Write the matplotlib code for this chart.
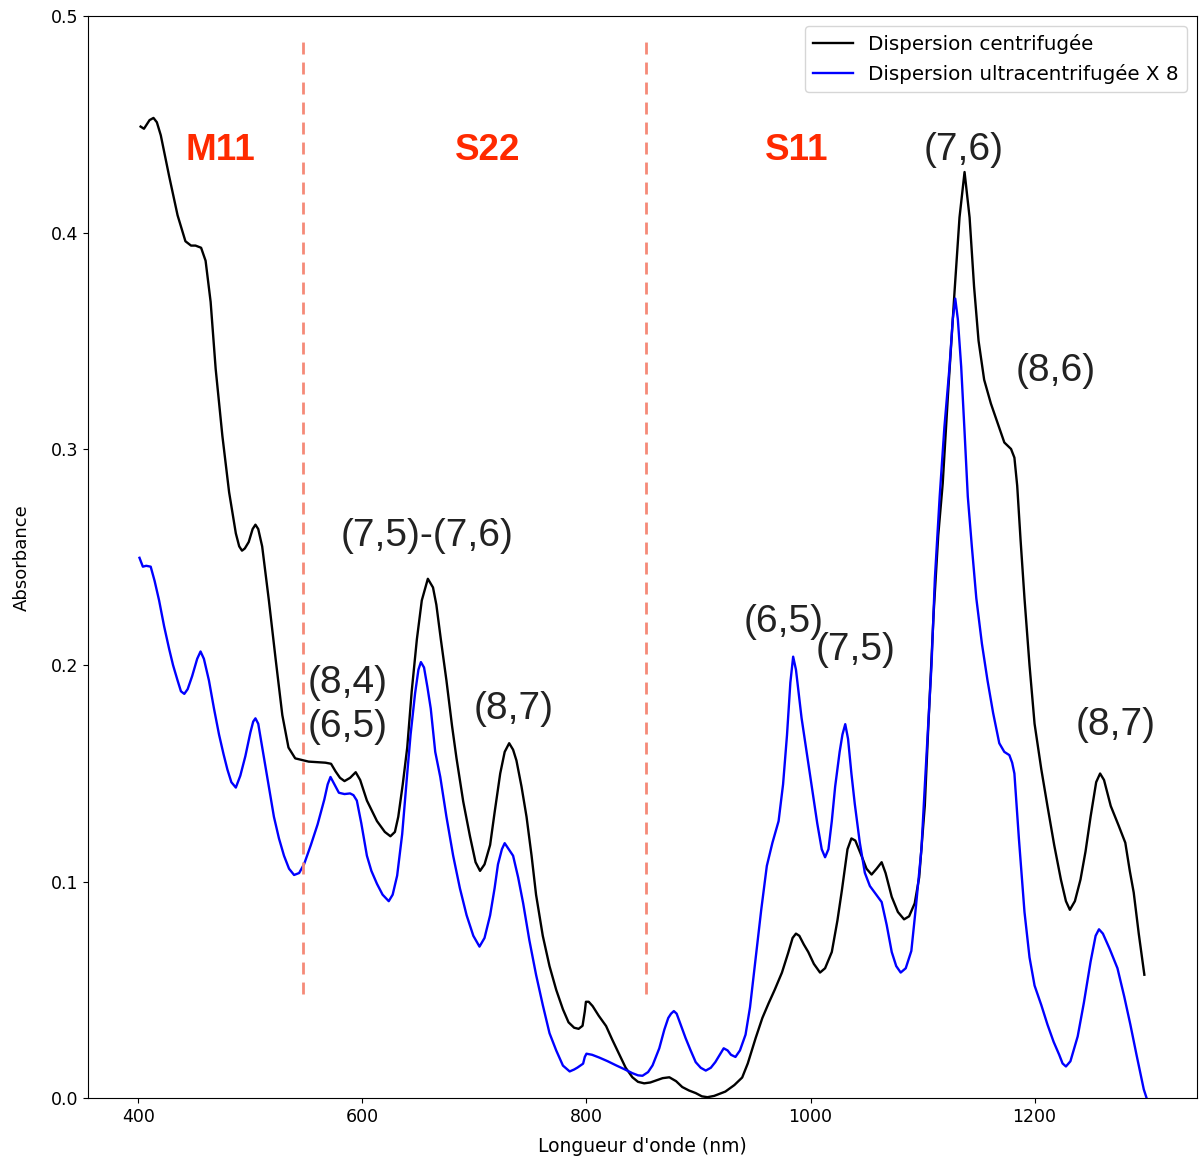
import matplotlib
matplotlib.use("Agg")
import matplotlib.pyplot as plt

# (wavelength nm, absorbance)
black_pts = [
    (402, 0.449), (405, 0.448), (410, 0.452), (413.5, 0.453), (416.5, 0.451), (420, 0.445),
    (427.5, 0.426), (435, 0.408), (442, 0.396), (447, 0.394), (451, 0.394), (456, 0.393),
    (460, 0.387), (464.5, 0.368), (469, 0.337), (475, 0.306), (481, 0.280), (487, 0.261),
    (490, 0.255), (492.5, 0.253), (495, 0.254), (498.5, 0.257), (502, 0.263), (504.5, 0.265),
    (507, 0.263), (510.5, 0.255), (516.5, 0.230), (522.5, 0.203), (528.5, 0.177), (534, 0.162),
    (540, 0.157), (552, 0.1555), (567, 0.155), (572, 0.1545), (576, 0.151), (580, 0.148),
    (584, 0.1465), (589, 0.148), (594, 0.1506), (598, 0.147), (604, 0.1375), (613, 0.128),
    (620, 0.123), (625, 0.121), (629, 0.123), (632, 0.130), (636, 0.145), (640, 0.162),
    (644, 0.188), (648.6, 0.212), (653, 0.230), (658.4, 0.240), (663, 0.236), (666, 0.228),
    (670, 0.212), (675, 0.193), (680, 0.172), (684, 0.157), (690, 0.137), (696, 0.121),
    (701, 0.109), (705, 0.105), (709, 0.108), (714, 0.117), (718, 0.132), (723, 0.150),
    (727, 0.160), (731, 0.164), (734.5, 0.161), (737.5, 0.156), (742, 0.144), (746.5, 0.130),
    (751, 0.112), (755, 0.094), (761, 0.075), (767, 0.061), (773, 0.050), (779, 0.041),
    (784, 0.035), (789, 0.0325), (793, 0.032), (796.5, 0.0334), (798.5, 0.040), (799.5, 0.0445),
    (802, 0.0445), (805.5, 0.0425), (811, 0.038), (817.5, 0.0333), (823, 0.027), (829, 0.0205),
    (835, 0.014), (841, 0.0096), (846, 0.0075), (851.5, 0.0068), (857, 0.0072), (862, 0.0081),
    (868, 0.0092), (874, 0.0096), (880, 0.0078), (885.5, 0.0051), (891.5, 0.0035),
    (897.5, 0.0023), (903, 0.0008), (908, 0.0004), (914, 0.001), (919, 0.002), (924, 0.003),
    (932, 0.006), (939, 0.0095), (944, 0.016), (951, 0.0277), (957, 0.037), (962.5, 0.0437),
    (968, 0.050), (974.5, 0.058), (980, 0.067), (984, 0.074), (987, 0.076), (990, 0.075),
    (994, 0.071), (998, 0.0675), (1003, 0.062), (1008.5, 0.058), (1013, 0.060), (1019, 0.0675),
    (1024, 0.082), (1028, 0.096), (1033, 0.115), (1036.5, 0.120), (1040, 0.119),
    (1045.5, 0.112), (1050, 0.106), (1054.5, 0.1033), (1059, 0.106), (1063.5, 0.109),
    (1067, 0.104), (1072.5, 0.093), (1078, 0.086), (1083.5, 0.0826), (1088, 0.084),
    (1093, 0.090), (1097, 0.102), (1102, 0.135), (1105, 0.170), (1110, 0.225), (1114, 0.260),
    (1118, 0.284), (1122.7, 0.325), (1128.6, 0.373), (1133, 0.407), (1137.5, 0.428),
    (1142, 0.407), (1146, 0.375), (1150, 0.350), (1155, 0.332), (1161, 0.321), (1167, 0.312),
    (1173, 0.303), (1179, 0.300), (1182, 0.296), (1184.5, 0.283), (1187.5, 0.258),
    (1191, 0.231), (1195.5, 0.200), (1200, 0.173), (1206, 0.152), (1211.5, 0.135),
    (1217.5, 0.117), (1223.5, 0.101), (1228, 0.091), (1231.5, 0.087), (1236, 0.091),
    (1241, 0.101), (1245.5, 0.114), (1250, 0.130), (1255, 0.146), (1258.5, 0.150),
    (1262, 0.147), (1268, 0.135), (1275, 0.126), (1281, 0.118), (1285, 0.105), (1288.5, 0.095),
    (1293, 0.076), (1298, 0.057),
]

blue_pts = [
    (401, 0.2497), (404, 0.2456), (407, 0.246), (411, 0.2456), (414.5, 0.239), (418.5, 0.230),
    (423, 0.218), (427.5, 0.2075), (431, 0.200), (435, 0.193), (438, 0.188), (441, 0.1868),
    (444, 0.189), (448, 0.195), (452.5, 0.203), (455.5, 0.2064), (458.5, 0.203), (463, 0.193),
    (467.5, 0.180), (472, 0.168), (476, 0.159), (479.5, 0.1518), (483, 0.146), (487, 0.1435),
    (491, 0.149), (495.5, 0.158), (500, 0.169), (502.5, 0.174), (504.5, 0.1755), (507, 0.173),
    (512, 0.1576), (516.5, 0.144), (521, 0.130), (525.5, 0.120), (530, 0.112), (534.5, 0.106),
    (539, 0.1031), (543.5, 0.104), (548, 0.1082), (554, 0.117), (560, 0.1265), (566, 0.138),
    (569, 0.145), (571.5, 0.1484), (574, 0.146), (579, 0.1411), (584, 0.1405), (589, 0.1408),
    (592, 0.140), (595, 0.1375), (599, 0.127), (604, 0.112), (608, 0.105), (613, 0.099),
    (618, 0.094), (623.5, 0.091), (627, 0.094), (631, 0.1028), (635.5, 0.122), (640, 0.150),
    (643, 0.168), (647, 0.187), (650, 0.198), (652.2, 0.2015), (655, 0.199), (658, 0.190),
    (661, 0.180), (665, 0.160), (669.5, 0.1484), (675, 0.130), (681, 0.112), (687, 0.097),
    (693, 0.0845), (699, 0.075), (704.5, 0.070), (709, 0.074), (714, 0.0845), (718, 0.097),
    (721, 0.108), (724.5, 0.115), (727, 0.1178), (730, 0.1155), (734.5, 0.112), (739, 0.102),
    (743.5, 0.090), (749, 0.073), (755, 0.057), (761, 0.043), (767, 0.030), (773, 0.022),
    (779, 0.015), (785, 0.0123), (789, 0.0132), (792, 0.0141), (797, 0.0159), (798.5, 0.019),
    (800, 0.0205), (805, 0.0200), (811.5, 0.0187), (819, 0.017), (826.5, 0.0151),
    (834, 0.0133), (841, 0.0115), (846, 0.0105), (850, 0.0103), (855, 0.012), (859, 0.0151),
    (862, 0.019), (865, 0.023), (869.5, 0.0316), (873, 0.037), (875.5, 0.039), (878, 0.0402),
    (880.5, 0.039), (884, 0.034), (888.5, 0.0277), (893, 0.022), (897.5, 0.0166),
    (902, 0.014), (906.5, 0.0127), (911, 0.014), (915, 0.0166), (919, 0.020), (922.5, 0.023),
    (926, 0.022), (929, 0.020), (933, 0.019), (937, 0.022), (942, 0.0293), (946, 0.042),
    (951, 0.0643), (956, 0.087), (961, 0.1073), (966, 0.118), (971.5, 0.128), (975.5, 0.145),
    (979, 0.1677), (982, 0.192), (984.5, 0.204), (987, 0.198), (992, 0.1757), (996.5, 0.160),
    (1001, 0.144), (1006, 0.127), (1010, 0.115), (1013, 0.1113), (1016, 0.115), (1019, 0.128),
    (1022, 0.144), (1026, 0.160), (1028.5, 0.168), (1031, 0.1728), (1033.5, 0.166),
    (1036.5, 0.150), (1039.5, 0.136), (1044, 0.118), (1048.5, 0.1041), (1053, 0.098),
    (1059, 0.0938), (1063.5, 0.0906), (1068, 0.080), (1072.5, 0.0675), (1076.5, 0.061),
    (1080.5, 0.058), (1085, 0.060), (1090, 0.068), (1094, 0.088), (1099, 0.115),
    (1102, 0.144), (1108, 0.200), (1111, 0.240), (1115.3, 0.278), (1119.5, 0.310),
    (1124.1, 0.338), (1127, 0.360), (1129.2, 0.3695), (1131.5, 0.360), (1134.5, 0.338),
    (1137.5, 0.308), (1140.4, 0.278), (1144, 0.255), (1148, 0.231), (1153, 0.210),
    (1158, 0.193), (1163, 0.178), (1168.5, 0.164), (1173, 0.160), (1177.5, 0.1585),
    (1180, 0.155), (1182, 0.150), (1186, 0.120), (1191, 0.086), (1195.5, 0.065), (1200, 0.052),
    (1206, 0.043), (1211.5, 0.034), (1217, 0.026), (1222, 0.020), (1225, 0.016),
    (1228, 0.0146), (1232, 0.017), (1238.5, 0.0285), (1244, 0.044), (1250, 0.063),
    (1254.5, 0.075), (1257.5, 0.078), (1261, 0.076), (1267, 0.069), (1274, 0.060),
    (1280, 0.047), (1285.5, 0.034), (1291, 0.020), (1297.5, 0.004), (1300, 0.0),
]

black_nm, black_abs = zip(*black_pts)
blue_nm, blue_abs = zip(*blue_pts)

region_bounds = [547, 853]
region_names = ["M11", "S22", "S11"]
region_pos = [(473, 0.438), (712, 0.438), (988, 0.438)]

peak_labels = ["(7,6)", "(8,6)", "(7,5)-(7,6)", "(8,4)", "(6,5)", "(8,7)", "(6,5)", "(7,5)", "(8,7)"]
peak_pos = [(1137, 0.438), (1219, 0.336), (658, 0.260), (587, 0.192), (587, 0.1715),
            (735, 0.180), (976, 0.220), (1040, 0.207), (1272, 0.1725)]

fig, ax = plt.subplots(figsize=(12, 11.6), dpi=100)
fig.subplots_adjust(left=0.0733, right=0.9975, top=0.986, bottom=0.0534)

ax.plot(black_nm, black_abs, color="black", lw=1.7, label="Dispersion centrifugée")
ax.plot(blue_nm, blue_abs, color="blue", lw=1.7, label="Dispersion ultracentrifugée X 8")

for xb in region_bounds:
    ax.vlines(xb, 0.048, 0.492, colors="#f58a78", linestyles=(0, (4.3, 2.9)), lw=2)

for name, (x, y) in zip(region_names, region_pos):
    ax.text(x, y, name, color="#ff2a00", fontsize=26.5, fontweight="bold",
            family="Liberation Sans", ha="center", va="center")

for name, (x, y) in zip(peak_labels, peak_pos):
    ax.text(x, y, name, color="#222222", fontsize=28, family="Liberation Sans",
            ha="center", va="center")

ax.set_ylim(0, 0.5)
ax.set_xlim(355, 1345)
ax.set_xticks([400, 600, 800, 1000, 1200])
ax.tick_params(labelsize=12.5)
ax.set_xlabel("Longueur d'onde (nm)", fontsize=13.5, labelpad=8)
ax.set_ylabel("Absorbance", fontsize=13, labelpad=14)
ax.legend(loc="upper right", fontsize=14.3, handlelength=2)

plt.savefig("out.png", dpi=100)
